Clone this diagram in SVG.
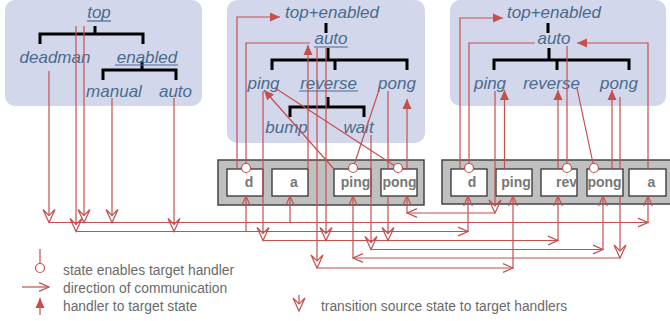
<svg xmlns="http://www.w3.org/2000/svg" width="670" height="321" viewBox="0 0 670 321">
<style>
.pnl{fill:#d2d7eb}
.st{font-family:"Liberation Sans",Arial,sans-serif;font-size:17px;font-style:italic;fill:#4a6b8b;text-anchor:middle}
.ul{stroke:#4a6b8b;stroke-width:1.2}
.tree{stroke:#000;stroke-width:3;fill:none}
.grp{fill:#c0c0c0;stroke:#444;stroke-width:1.5}
.hb{fill:#fff;stroke:#333;stroke-width:1.3}
.hl{font-family:"Liberation Sans",Arial,sans-serif;font-size:14px;font-weight:bold;fill:#777;text-anchor:middle}
.w{fill:none;stroke:#c4504e;stroke-width:1.2}
.lg{font-family:"Liberation Sans",Arial,sans-serif;font-size:13.8px;fill:#6a6a6a}
</style>
<defs>
<marker id="fa" viewBox="0 0 10 10" refX="10" refY="5" markerWidth="10" markerHeight="10" markerUnits="userSpaceOnUse" orient="auto"><path d="M0,0.5 L10,5 L0,9.5 Z" fill="#c4504e"/></marker>
<marker id="oa" viewBox="-1 -1 12 12" refX="10" refY="5" markerWidth="12" markerHeight="12" markerUnits="userSpaceOnUse" orient="auto"><path d="M0,0.6 L10,5 L0,9.4" fill="none" stroke="#c4504e" stroke-width="1.2"/></marker>
<marker id="en" viewBox="-6 -6 12 12" refX="0" refY="0" markerWidth="12" markerHeight="12" markerUnits="userSpaceOnUse" orient="0"><circle r="4.5" fill="#fff" stroke="#c4504e" stroke-width="1.2"/></marker>
<path id="vv" d="M-6,-13 L0,0 L6,-13 L0,-7 Z" fill="none" stroke="#c4504e" stroke-width="1.2"/>
</defs>

<g id="panel1">
<rect class="pnl" x="5" y="0" width="197" height="106" rx="10"/>
<path class="tree" d="M95,26 V34 M40,44 V34 H143 V44 M142,61 V70 M103,80 V70 H176 V80"/>
<g id="p1-top"><text class="st" x="99" y="18">top</text><line class="ul" x1="87" y1="21" x2="111" y2="21"/></g>
<g id="p1-deadman"><text class="st" x="55" y="63">deadman</text></g>
<g id="p1-enabled"><text class="st" x="147" y="62.5">enabled</text><line class="ul" x1="115" y1="65" x2="178" y2="65"/></g>
<g id="p1-manual"><text class="st" x="114" y="97">manual</text></g>
<g id="p1-auto"><text class="st" x="175.5" y="97">auto</text></g>
</g>

<g id="panel2">
<rect class="pnl" x="227" y="0" width="198" height="143" rx="10"/>
<path class="tree" d="M326,23 V33 M328,48 V60 M272,70 V60 H407 V70 M335,60 V70 M328,97 V107 M290,117 V107 H364 V117"/>
<g id="p2-topenabled"><text class="st" x="332" y="18">top+enabled</text></g>
<g id="p2-auto"><text class="st" x="331" y="44">auto</text><line class="ul" x1="314" y1="47" x2="348" y2="47"/></g>
<g id="p2-ping"><text class="st" x="263.5" y="89">ping</text></g>
<g id="p2-reverse"><text class="st" x="328.5" y="89">reverse</text><line class="ul" x1="299" y1="91" x2="358" y2="91"/></g>
<g id="p2-pong"><text class="st" x="397" y="89">pong</text></g>
<g id="p2-bump"><text class="st" x="286.5" y="133">bump</text></g>
<g id="p2-wait"><text class="st" x="358.5" y="133">wait</text></g>
</g>

<g id="panel3">
<rect class="pnl" x="450" y="0" width="216" height="106" rx="10"/>
<path class="tree" d="M548,23 V33 M549,48 V60 M494,70 V60 H629 V70 M557,60 V70"/>
<g id="p3-topenabled"><text class="st" x="554" y="18">top+enabled</text></g>
<g id="p3-auto"><text class="st" x="554" y="44">auto</text></g>
<g id="p3-ping"><text class="st" x="490" y="89">ping</text></g>
<g id="p3-reverse"><text class="st" x="551.5" y="89">reverse</text></g>
<g id="p3-pong"><text class="st" x="619" y="89">pong</text></g>
</g>

<g id="handlers1">
<rect class="grp" x="218" y="160" width="206" height="45"/>
<g id="h1-d"><rect class="hb" x="227" y="169" width="36" height="27"/><text class="hl" x="249" y="187">d</text></g>
<g id="h1-a"><rect class="hb" x="272" y="169" width="36" height="27"/><text class="hl" x="294" y="187">a</text></g>
<g id="h1-ping"><rect class="hb" x="334" y="169" width="37" height="27"/><text class="hl" x="355.5" y="187">ping</text></g>
<g id="h1-pong"><rect class="hb" x="381" y="169" width="36" height="27"/><text class="hl" x="399.5" y="187">pong</text></g>
</g>

<g id="handlers2">
<rect class="grp" x="442" y="160" width="235" height="44"/>
<g id="h2-d"><rect class="hb" x="451" y="169" width="36" height="27"/><text class="hl" x="472" y="187">d</text></g>
<g id="h2-ping"><rect class="hb" x="496" y="169" width="36" height="27"/><text class="hl" x="516" y="187">ping</text></g>
<g id="h2-rev"><rect class="hb" x="541" y="169" width="36" height="27"/><text class="hl" x="566.5" y="187">rev</text></g>
<g id="h2-pong"><rect class="hb" x="587" y="169" width="36" height="27"/><text class="hl" x="604.5" y="187">pong</text></g>
<g id="h2-a"><rect class="hb" x="629" y="169" width="37" height="27"/><text class="hl" x="651.5" y="187">a</text></g>
</g>

<g id="connectors">
<!-- panel 1 sources -->
<path class="w" d="M49,71 V215.5"/><use href="#vv" x="49" y="222.5"/>
<path class="w" d="M76,26 V224.5"/><use href="#vv" x="76" y="231.5"/>
<path class="w" d="M84,26 V215.5"/><use href="#vv" x="84" y="222.5"/>
<path class="w" d="M112,98 V215.5"/><use href="#vv" x="112" y="222.5"/>
<path class="w" d="M174,98 V224.5"/><use href="#vv" x="174" y="231.5"/>
<!-- panel 2 -->
<path class="w" d="M237,169 V17 H280" marker-end="url(#fa)"/>
<path class="w" d="M310,43 H246 V168" marker-end="url(#en)"/>
<path class="w" d="M308,169 V45" marker-end="url(#fa)"/>
<path class="w" d="M263,91 V233.5"/><use href="#vv" x="263" y="240.5"/>
<path class="w" d="M334,169 L264,90" marker-end="url(#fa)"/>
<path class="w" d="M275,88 L398,168" marker-end="url(#en)"/>
<path class="w" d="M379,90 L353,168" marker-end="url(#en)"/>
<path class="w" d="M317,48 V261"/><use href="#vv" x="317" y="268"/>
<path class="w" d="M326,48 V233.5"/><use href="#vv" x="326" y="240.5"/>
<path class="w" d="M371,135 V242.5"/><use href="#vv" x="371" y="249.5"/>
<path class="w" d="M388,91 V169 M388,196 V233.5"/><use href="#vv" x="388" y="240.5"/>
<path class="w" d="M407,169 V99" marker-end="url(#fa)"/>
<!-- panel 3 -->
<path class="w" d="M460,169 V18 H503" marker-end="url(#fa)"/>
<path class="w" d="M535,43 H469 V168" marker-end="url(#en)"/>
<path class="w" d="M495,91 V206"/><use href="#vv" x="495" y="213"/>
<path class="w" d="M504.5,169 V90" marker-end="url(#fa)"/>
<path class="w" d="M558,169 V90" marker-end="url(#fa)"/>
<path class="w" d="M567,46 V168" marker-end="url(#en)"/>
<path class="w" d="M577,88 L594,168" marker-end="url(#en)"/>
<path class="w" d="M612,169 V90" marker-end="url(#fa)"/>
<path class="w" d="M620,97 V169 M620,196 V251"/><use href="#vv" x="620" y="258"/>
<path class="w" d="M648,169 V43 H577" marker-end="url(#fa)"/>
<!-- buses -->
<path class="w" d="M495,213 H407" marker-end="url(#oa)"/>
<path class="w" d="M407,213 V196" marker-end="url(#oa)"/>
<path class="w" d="M49,222.5 H648" marker-end="url(#oa)"/>
<path class="w" d="M290,222.5 V196" marker-end="url(#oa)"/>
<path class="w" d="M648,222.5 V196" marker-end="url(#oa)"/>
<path class="w" d="M76,231.5 H468" marker-end="url(#oa)"/>
<path class="w" d="M246,231.5 V196" marker-end="url(#oa)"/>
<path class="w" d="M468,231.5 V196" marker-end="url(#oa)"/>
<path class="w" d="M263,240.5 H558" marker-end="url(#oa)"/>
<path class="w" d="M558,240.5 V196" marker-end="url(#oa)"/>
<path class="w" d="M371,249.5 H603" marker-end="url(#oa)"/>
<path class="w" d="M603,249.5 V196" marker-end="url(#oa)"/>
<path class="w" d="M620,258 H353" marker-end="url(#oa)"/>
<path class="w" d="M353,258 V196" marker-end="url(#oa)"/>
<path class="w" d="M317,268 H513" marker-end="url(#oa)"/>
<path class="w" d="M513,268 V196" marker-end="url(#oa)"/>
</g>

<g id="legend">
<path class="w" d="M40,249 V268" marker-end="url(#en)"/>
<text class="lg" x="63" y="275">state enables target handler</text>
<path class="w" d="M22,287 H49" marker-end="url(#oa)"/>
<text class="lg" x="63" y="293">direction of communication</text>
<path class="w" d="M40,315 V298" marker-end="url(#fa)"/>
<text class="lg" x="63" y="311">handler to target state</text>
<path class="w" d="M299,295 V304"/><use href="#vv" x="299" y="311"/>
<text class="lg" x="321" y="311">transition source state to target handlers</text>
</g>
</svg>
